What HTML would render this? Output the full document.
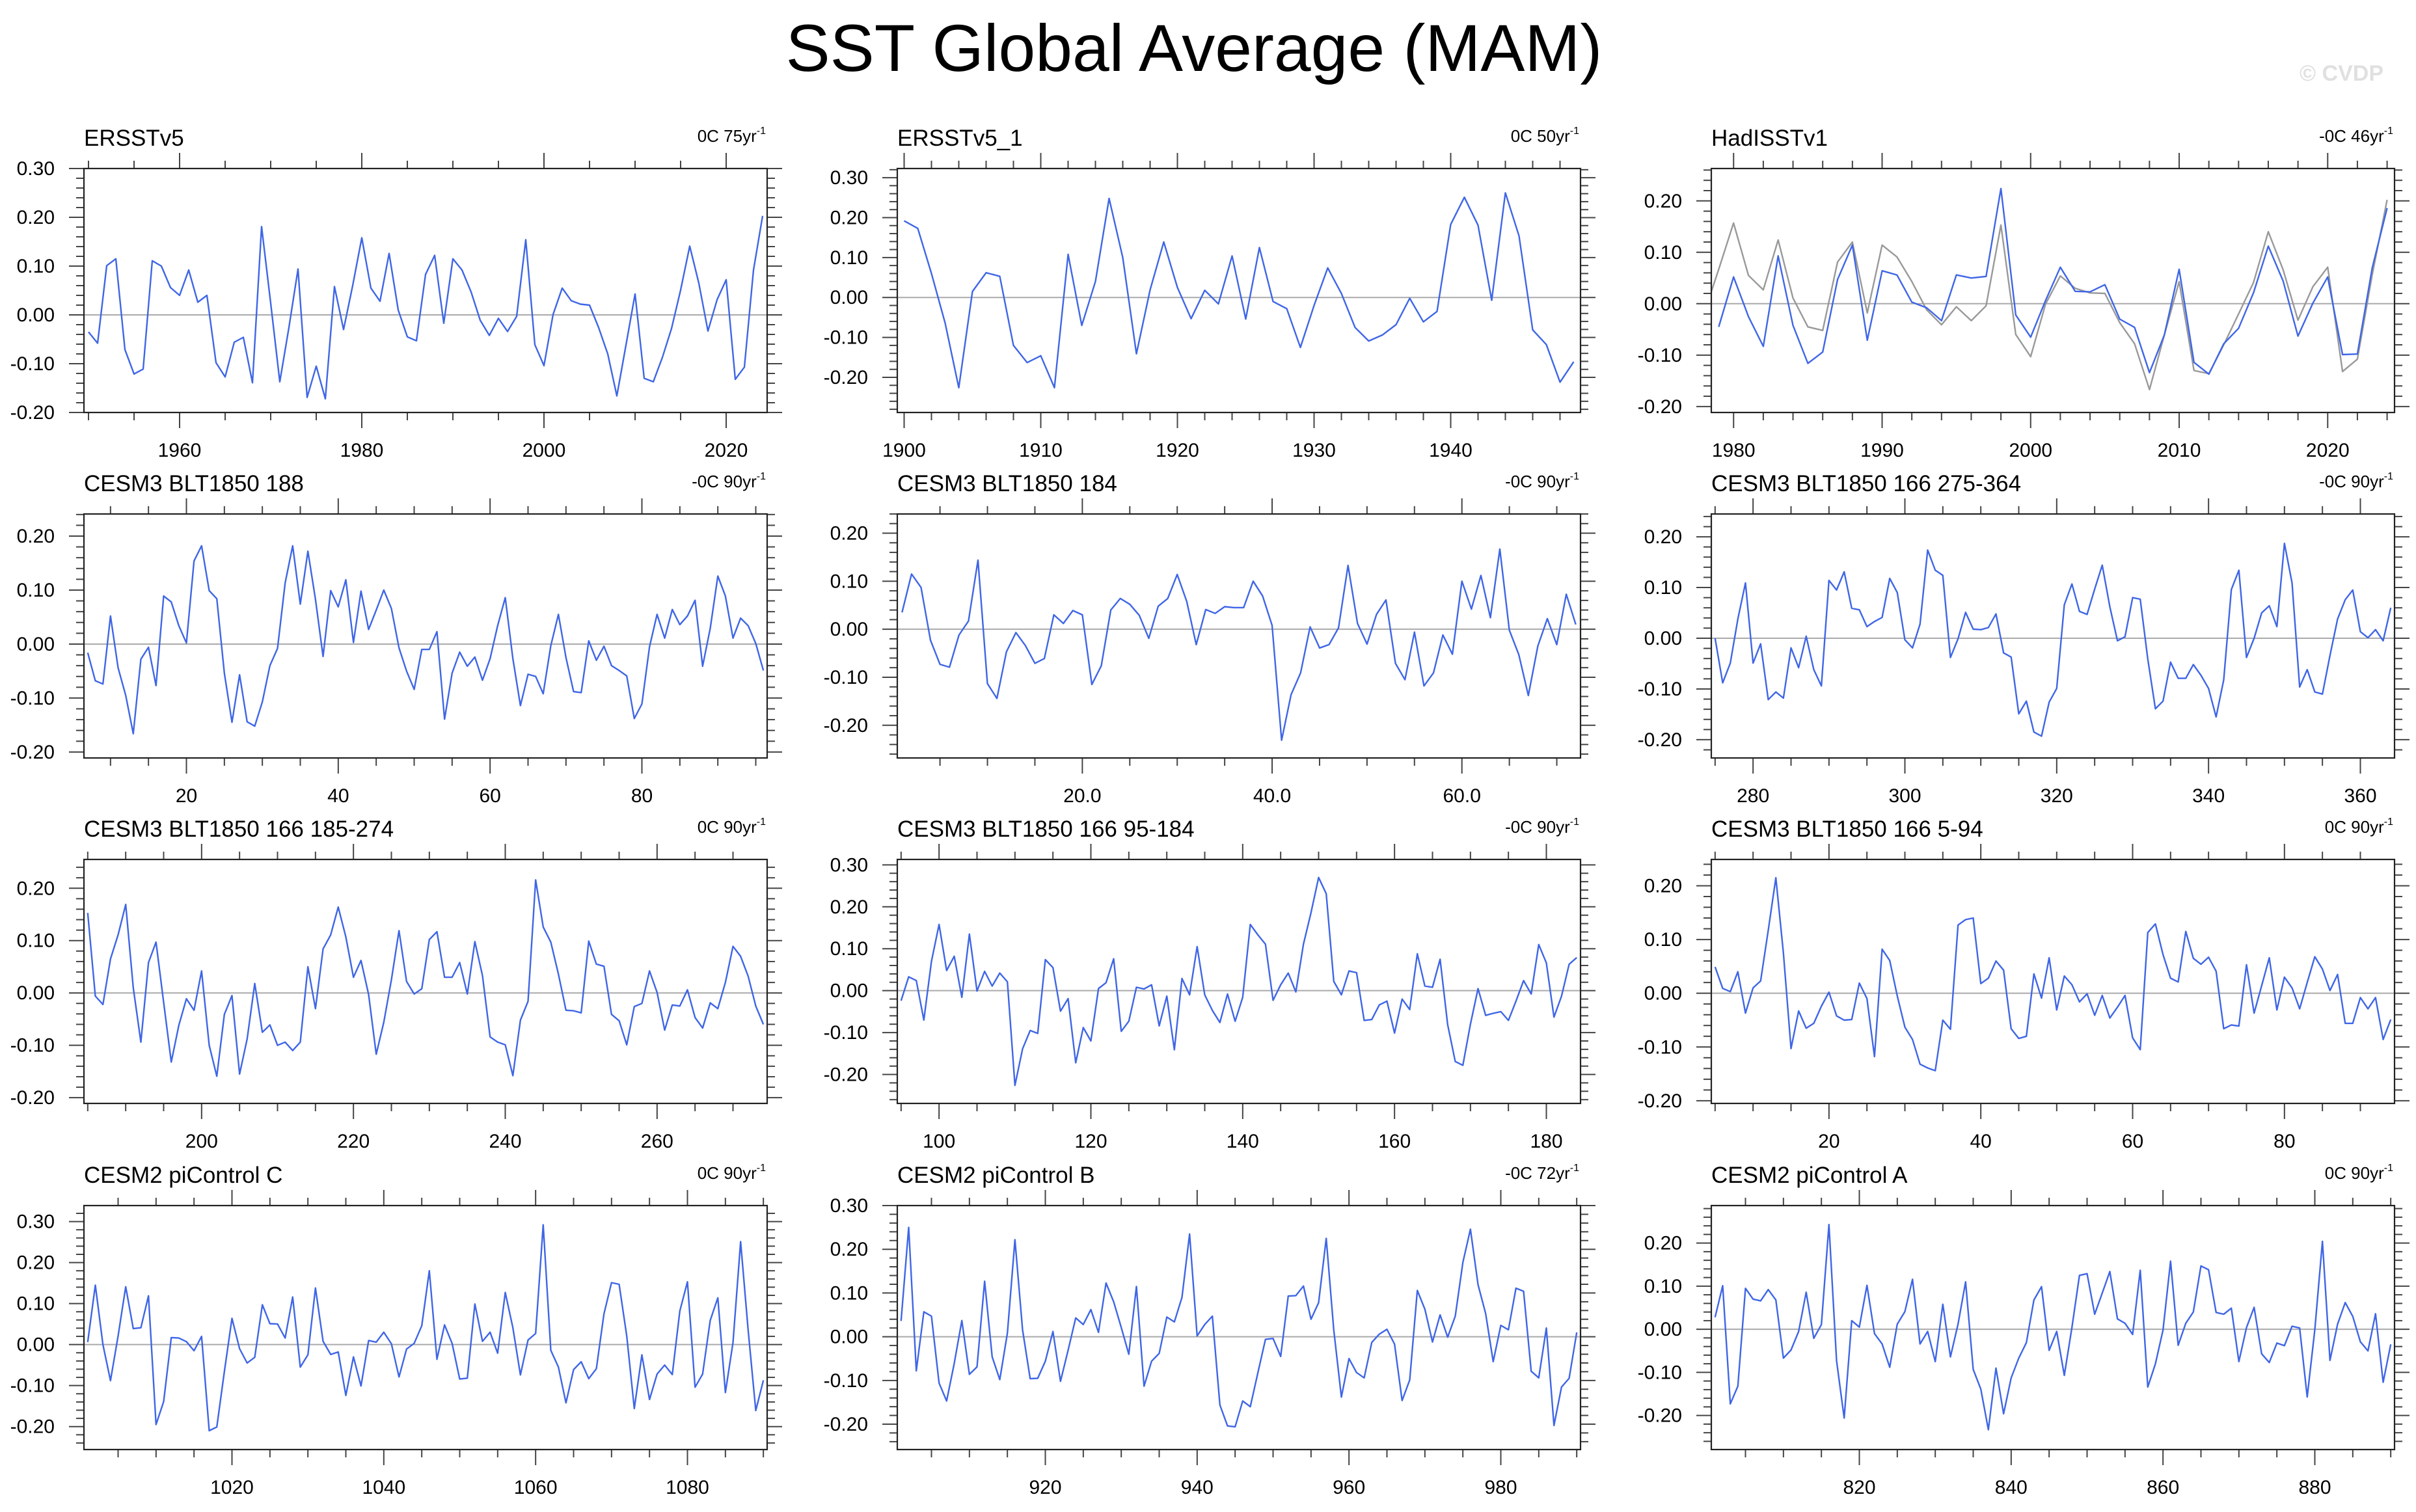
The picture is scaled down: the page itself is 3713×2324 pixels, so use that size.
<!DOCTYPE html>
<html><head><meta charset="utf-8"><title>SST Global Average (MAM)</title>
<style>
html,body{margin:0;padding:0;background:#fff;}
svg{display:block;font-family:"Liberation Sans",Arial,sans-serif;}
</style></head>
<body>
<svg id="chart" xmlns="http://www.w3.org/2000/svg" width="3713" height="2324" viewBox="0 0 3713 2324">
<rect width="3713" height="2324" fill="#fff"/>
<text x="1835" y="109" font-size="102" text-anchor="middle" fill="#000">SST Global Average (MAM)</text>
<text x="3663" y="124" font-size="34" font-weight="bold" text-anchor="end" fill="#e0e0e0">© CVDP</text>
</svg>
<script>
// ---------- data ----------
const p1Title = "ERSSTv5", p1Trend = "0C 75yr", p1Start = 1950;
const p1Values = [-0.035,-0.058,0.101,0.115,-0.071,-0.121,-0.111,0.111,0.100,0.056,0.040,0.092,0.026,0.040,-0.098,-0.127,-0.056,-0.046,-0.139,0.181,0.024,-0.137,-0.026,0.094,-0.169,-0.105,-0.172,0.058,-0.030,0.060,0.158,0.055,0.028,0.126,0.010,-0.045,-0.053,0.083,0.122,-0.017,0.115,0.092,0.047,-0.011,-0.042,-0.007,-0.034,-0.003,0.154,-0.061,-0.104,0.001,0.055,0.029,0.022,0.020,-0.026,-0.080,-0.166,-0.062,0.043,-0.130,-0.137,-0.087,-0.028,0.051,0.141,0.065,-0.033,0.031,0.072,-0.132,-0.107,0.092,0.203];

const p2Title = "ERSSTv5_1", p2Trend = "0C 50yr", p2Start = 1900;
const p2Values = [0.192,0.173,0.060,-0.064,-0.226,0.015,0.062,0.053,-0.120,-0.163,-0.146,-0.226,0.108,-0.070,0.040,0.248,0.100,-0.141,0.019,0.139,0.025,-0.053,0.018,-0.016,0.104,-0.054,0.125,-0.010,-0.028,-0.125,-0.020,0.074,0.010,-0.075,-0.109,-0.094,-0.068,-0.002,-0.061,-0.035,0.183,0.251,0.181,-0.007,0.262,0.154,-0.081,-0.118,-0.212,-0.161];

const p3Title = "HadISSTv1", p3Trend = "-0C 46yr", p3Start = 1979;
const p3Values = [-0.045,0.052,-0.025,-0.083,0.093,-0.042,-0.116,-0.094,0.047,0.114,-0.071,0.064,0.056,0.003,-0.008,-0.033,0.056,0.050,0.053,0.224,-0.022,-0.065,0.006,0.071,0.024,0.023,0.037,-0.030,-0.046,-0.134,-0.061,0.067,-0.114,-0.137,-0.078,-0.048,0.021,0.112,0.044,-0.063,0.001,0.052,-0.099,-0.098,0.070,0.186];
const p3GrayStart = 1978;
const p3GrayValues = [-0.020,0.067,0.157,0.055,0.027,0.124,0.011,-0.045,-0.052,0.081,0.120,-0.018,0.114,0.091,0.043,-0.012,-0.041,-0.006,-0.033,-0.004,0.153,-0.060,-0.103,-0.001,0.054,0.030,0.021,0.020,-0.037,-0.078,-0.167,-0.061,0.043,-0.130,-0.136,-0.080,-0.020,0.041,0.140,0.066,-0.032,0.033,0.071,-0.132,-0.108,0.057,0.202];

const p4Title = "CESM3 BLT1850 188", p4Trend = "-0C 90yr", p4Start = 7;
const p4Values = [-0.016,-0.068,-0.074,0.052,-0.044,-0.095,-0.166,-0.028,-0.006,-0.077,0.089,0.078,0.034,0.002,0.154,0.182,0.099,0.084,-0.054,-0.145,-0.057,-0.144,-0.152,-0.107,-0.040,-0.008,0.113,0.182,0.074,0.172,0.083,-0.023,0.099,0.069,0.119,0.003,0.098,0.027,0.063,0.100,0.066,-0.007,-0.050,-0.084,-0.010,-0.010,0.023,-0.139,-0.054,-0.015,-0.041,-0.024,-0.067,-0.027,0.034,0.086,-0.027,-0.114,-0.056,-0.060,-0.092,-0.003,0.055,-0.025,-0.088,-0.090,0.006,-0.030,-0.004,-0.040,-0.049,-0.059,-0.138,-0.111,-0.005,0.055,0.011,0.064,0.036,0.052,0.081,-0.041,0.029,0.126,0.089,0.011,0.048,0.034,0.001,-0.049];

const p5Title = "CESM3 BLT1850 184", p5Trend = "-0C 90yr", p5Start = 1;
const p5Values = [0.035,0.115,0.087,-0.023,-0.073,-0.079,-0.012,0.017,0.144,-0.113,-0.144,-0.047,-0.007,-0.034,-0.071,-0.061,0.030,0.012,0.039,0.030,-0.115,-0.076,0.040,0.064,0.052,0.029,-0.019,0.048,0.064,0.114,0.058,-0.032,0.041,0.033,0.047,0.045,0.045,0.100,0.069,0.008,-0.231,-0.136,-0.091,0.005,-0.039,-0.032,0.003,0.133,0.012,-0.031,0.031,0.061,-0.071,-0.105,-0.006,-0.118,-0.091,-0.012,-0.052,0.100,0.042,0.112,0.024,0.167,-0.002,-0.053,-0.138,-0.035,0.022,-0.032,0.073,0.010];

const p6Title = "CESM3 BLT1850 166 275-364", p6Trend = "-0C 90yr", p6Start = 275;
const p6Values = [0.000,-0.088,-0.049,0.038,0.109,-0.049,-0.011,-0.121,-0.106,-0.118,-0.019,-0.058,0.004,-0.062,-0.094,0.114,0.095,0.131,0.059,0.056,0.023,0.033,0.041,0.118,0.090,-0.003,-0.019,0.028,0.174,0.134,0.124,-0.038,-0.001,0.051,0.018,0.017,0.021,0.048,-0.029,-0.037,-0.149,-0.124,-0.185,-0.193,-0.126,-0.099,0.066,0.107,0.053,0.047,0.097,0.144,0.062,-0.005,0.003,0.080,0.077,-0.041,-0.139,-0.124,-0.047,-0.079,-0.079,-0.052,-0.073,-0.099,-0.155,-0.082,0.096,0.134,-0.038,0.000,0.050,0.064,0.023,0.187,0.109,-0.096,-0.062,-0.106,-0.110,-0.034,0.038,0.076,0.095,0.013,0.001,0.017,-0.005,0.060];

const p7Title = "CESM3 BLT1850 166 185-274", p7Trend = "0C 90yr", p7Start = 185;
const p7Values = [0.153,-0.006,-0.022,0.065,0.111,0.169,0.010,-0.094,0.058,0.097,-0.018,-0.132,-0.062,-0.011,-0.033,0.042,-0.100,-0.159,-0.041,-0.005,-0.155,-0.088,0.018,-0.075,-0.061,-0.100,-0.094,-0.110,-0.094,0.050,-0.030,0.084,0.111,0.164,0.107,0.030,0.062,-0.003,-0.117,-0.056,0.025,0.119,0.022,-0.002,0.008,0.102,0.117,0.030,0.030,0.058,-0.002,0.098,0.033,-0.084,-0.094,-0.099,-0.158,-0.052,-0.016,0.216,0.126,0.097,0.036,-0.033,-0.034,-0.038,0.099,0.055,0.051,-0.041,-0.053,-0.099,-0.026,-0.020,0.042,0.001,-0.071,-0.023,-0.025,0.006,-0.047,-0.067,-0.019,-0.030,0.020,0.089,0.070,0.032,-0.025,-0.060];

const p8Title = "CESM3 BLT1850 166 95-184", p8Trend = "-0C 90yr", p8Start = 95;
const p8Values = [-0.024,0.033,0.024,-0.070,0.070,0.158,0.048,0.082,-0.016,0.135,-0.001,0.046,0.011,0.042,0.021,-0.226,-0.139,-0.095,-0.102,0.074,0.055,-0.049,-0.019,-0.172,-0.088,-0.120,0.005,0.019,0.076,-0.097,-0.073,0.008,0.004,0.014,-0.084,-0.013,-0.141,0.029,-0.010,0.105,-0.010,-0.047,-0.076,-0.008,-0.073,-0.016,0.158,0.133,0.111,-0.023,0.014,0.042,-0.003,0.111,0.186,0.270,0.231,0.022,-0.010,0.047,0.043,-0.071,-0.069,-0.034,-0.025,-0.101,-0.020,-0.045,0.088,0.011,0.008,0.075,-0.081,-0.169,-0.178,-0.080,0.005,-0.059,-0.054,-0.050,-0.071,-0.025,0.024,-0.008,0.110,0.066,-0.063,-0.013,0.063,0.079];

const p9Title = "CESM3 BLT1850 166 5-94", p9Trend = "0C 90yr", p9Start = 5;
const p9Values = [0.049,0.009,0.003,0.040,-0.037,0.010,0.023,0.117,0.215,0.075,-0.103,-0.033,-0.065,-0.056,-0.024,0.002,-0.042,-0.050,-0.049,0.019,-0.010,-0.118,0.082,0.061,-0.005,-0.063,-0.086,-0.132,-0.139,-0.144,-0.050,-0.067,0.127,0.137,0.140,0.018,0.028,0.060,0.043,-0.066,-0.084,-0.080,0.036,-0.009,0.066,-0.031,0.032,0.016,-0.016,-0.001,-0.041,-0.004,-0.046,-0.026,-0.004,-0.083,-0.105,0.113,0.129,0.072,0.028,0.021,0.115,0.065,0.054,0.067,0.041,-0.066,-0.059,-0.061,0.053,-0.037,0.014,0.066,-0.031,0.030,0.010,-0.029,0.020,0.068,0.045,0.005,0.035,-0.056,-0.056,-0.008,-0.029,-0.008,-0.086,-0.049];

const p10Title = "CESM2 piControl C", p10Trend = "0C 90yr", p10Start = 1001;
const p10Values = [0.006,0.145,0.000,-0.088,0.021,0.141,0.039,0.041,0.119,-0.195,-0.139,0.017,0.016,0.007,-0.015,0.020,-0.210,-0.201,-0.066,0.064,-0.010,-0.045,-0.031,0.097,0.051,0.050,0.016,0.116,-0.055,-0.025,0.138,0.008,-0.024,-0.018,-0.124,-0.030,-0.101,0.010,0.006,0.030,0.002,-0.079,-0.011,0.003,0.046,0.180,-0.036,0.048,0.003,-0.084,-0.082,0.099,0.008,0.030,-0.021,0.127,0.041,-0.074,0.011,0.027,0.292,-0.014,-0.055,-0.142,-0.061,-0.042,-0.083,-0.059,0.075,0.151,0.147,0.021,-0.156,-0.025,-0.134,-0.072,-0.050,-0.073,0.082,0.153,-0.104,-0.072,0.059,0.114,-0.117,0.005,0.251,0.035,-0.161,-0.087];

const p11Title = "CESM2 piControl B", p11Trend = "-0C 72yr", p11Start = 901;
const p11Values = [0.036,0.250,-0.078,0.057,0.047,-0.106,-0.147,-0.061,0.037,-0.086,-0.069,0.127,-0.046,-0.098,0.008,0.222,0.016,-0.096,-0.095,-0.056,0.012,-0.102,-0.031,0.043,0.028,0.062,0.010,0.123,0.080,0.021,-0.040,0.115,-0.113,-0.056,-0.038,0.045,0.034,0.090,0.235,0.002,0.028,0.047,-0.156,-0.204,-0.206,-0.147,-0.160,-0.082,-0.006,-0.004,-0.045,0.093,0.094,0.116,0.040,0.078,0.225,0.015,-0.138,-0.050,-0.082,-0.094,-0.013,0.006,0.017,-0.017,-0.146,-0.099,0.106,0.063,-0.012,0.050,-0.001,0.047,0.170,0.246,0.119,0.053,-0.057,0.026,0.016,0.111,0.104,-0.079,-0.094,0.020,-0.203,-0.115,-0.095,0.010];

const p12Title = "CESM2 piControl A", p12Trend = "0C 90yr", p12Start = 801;
const p12Values = [0.028,0.101,-0.173,-0.132,0.095,0.070,0.066,0.092,0.068,-0.067,-0.048,-0.005,0.086,-0.021,0.011,0.243,-0.073,-0.206,0.020,0.005,0.102,-0.010,-0.034,-0.088,0.012,0.041,0.116,-0.034,-0.005,-0.075,0.058,-0.064,0.012,0.110,-0.093,-0.139,-0.233,-0.090,-0.196,-0.113,-0.067,-0.031,0.068,0.099,-0.049,-0.005,-0.107,0.004,0.125,0.129,0.035,0.084,0.134,0.024,0.014,-0.012,0.137,-0.134,-0.080,-0.002,0.158,-0.037,0.014,0.040,0.147,0.138,0.039,0.035,0.049,-0.075,0.004,0.051,-0.057,-0.077,-0.032,-0.038,0.007,0.003,-0.157,-0.001,0.204,-0.072,0.012,0.062,0.030,-0.029,-0.050,0.036,-0.123,-0.035];

// ---------- layout ----------
const NS = "http://www.w3.org/2000/svg";
const svg = document.getElementById('chart');
const colX = [129, 1379, 2630];
const rowY = [259, 790, 1321, 1853];
const PW = 1050, PH = 375;
const BLUE = "#3f66e6";

function el(tag, attrs, parent) {
  const e = document.createElementNS(NS, tag);
  for (const k in attrs) e.setAttribute(k, attrs[k]);
  (parent || svg).appendChild(e);
  return e;
}

const panels = [
  {t:p1Title, r:p1Trend, s:p1Start, v:p1Values, c:0, w:0, xr:[1949.5,2024.5], yr:[-0.20,0.30], maj:20, min:5, dec:0},
  {t:p2Title, r:p2Trend, s:p2Start, v:p2Values, c:1, w:0, xr:[1899.5,1949.5], yr:[-0.288,0.323], maj:10, min:2, dec:0},
  {t:p3Title, r:p3Trend, s:p3Start, v:p3Values, c:2, w:0, xr:[1978.5,2024.5], yr:[-0.2116,0.263], maj:10, min:2, dec:0, gs:p3GrayStart, gv:p3GrayValues},
  {t:p4Title, r:p4Trend, s:p4Start, v:p4Values, c:0, w:1, xr:[6.5,96.5], yr:[-0.211,0.241], maj:20, min:5, dec:0},
  {t:p5Title, r:p5Trend, s:p5Start, v:p5Values, c:1, w:1, xr:[0.5,72.5], yr:[-0.268,0.240], maj:20, min:5, dec:1},
  {t:p6Title, r:p6Trend, s:p6Start, v:p6Values, c:2, w:1, xr:[274.5,364.5], yr:[-0.236,0.245], maj:20, min:5, dec:0},
  {t:p7Title, r:p7Trend, s:p7Start, v:p7Values, c:0, w:2, xr:[184.5,274.5], yr:[-0.211,0.255], maj:20, min:5, dec:0},
  {t:p8Title, r:p8Trend, s:p8Start, v:p8Values, c:1, w:2, xr:[94.5,184.5], yr:[-0.269,0.313], maj:20, min:5, dec:0},
  {t:p9Title, r:p9Trend, s:p9Start, v:p9Values, c:2, w:2, xr:[4.5,94.5], yr:[-0.205,0.249], maj:20, min:5, dec:0},
  {t:p10Title, r:p10Trend, s:p10Start, v:p10Values, c:0, w:3, xr:[1000.5,1090.5], yr:[-0.256,0.339], maj:20, min:5, dec:0},
  {t:p11Title, r:p11Trend, s:p11Start, v:p11Values, c:1, w:3, xr:[900.5,990.5], yr:[-0.258,0.300], maj:20, min:5, dec:0},
  {t:p12Title, r:p12Trend, s:p12Start, v:p12Values, c:2, w:3, xr:[800.5,890.5], yr:[-0.279,0.287], maj:20, min:5, dec:0}
];

panels.forEach(function(p, idx) {
  const L = colX[p.c], T = rowY[p.w], R = L + PW, B = T + PH;
  const sx = function(x){ return L + (x - p.xr[0]) / (p.xr[1] - p.xr[0]) * PW; };
  const sy = function(y){ return B - (y - p.yr[0]) / (p.yr[1] - p.yr[0]) * PH; };
  const g = el('g', {});
  
  

  const title = el('text', {x:L, y:T-35, 'font-size':35, fill:'#000'}, g);
  title.textContent = p.t;
  
  

  const trend = el('text', {x:R-2, y:T-41, 'font-size':26, 'text-anchor':'end', fill:'#000'}, g);
  
  
  const t1 = el('tspan', {}, trend); t1.textContent = p.r;
  const t2 = el('tspan', {dy:-12, 'font-size':16}, trend); t2.textContent = '-1';

  const cid = 'clip' + idx;
  const cp = el('clipPath', {id:cid}, g);
  el('rect', {x:L, y:T, width:PW, height:PH}, cp);

  // y ticks
  const yTicks = el('g', {stroke:'#444', 'stroke-width':2}, g);
  
  
  const kmin = Math.ceil(p.yr[0] / 0.02 - 1e-6), kmax = Math.floor(p.yr[1] / 0.02 + 1e-6);
  for (let k = kmin; k <= kmax; k++) {
    const y = sy(k * 0.02);
    const major = (k % 5 === 0);
    const len = major ? 23 : 12;
    el('line', {x1:L-len, y1:y, x2:L, y2:y}, yTicks);
    el('line', {x1:R, y1:y, x2:R+len, y2:y}, yTicks);
    if (major) {
      const lab = el('text', {x:L-45, y:y+10, 'font-size':30, 'text-anchor':'end', fill:'#000', stroke:'none'}, g);
      lab.textContent = (k * 0.02).toFixed(2).replace('-0.00', '0.00');
      
      
    }
  }
  // x ticks
  const xTicks = el('g', {stroke:'#444', 'stroke-width':2}, g);
  
  
  for (let v = Math.ceil(p.xr[0] / p.min) * p.min; v <= p.xr[1]; v += p.min) {
    const x = sx(v);
    const major = (Math.abs(v % p.maj) < 1e-6);
    const len = major ? 24 : 12;
    el('line', {x1:x, y1:T-len, x2:x, y2:T}, xTicks);
    el('line', {x1:x, y1:B, x2:x, y2:B+len}, xTicks);
    if (major) {
      const lab = el('text', {x:x, y:B+68, 'font-size':30, 'text-anchor':'middle', fill:'#000', stroke:'none'}, g);
      lab.textContent = v.toFixed(p.dec);
      
      
    }
  }
  // zero line
  const zl = el('line', {x1:L, y1:sy(0), x2:R, y2:sy(0), stroke:'#aaa', 'stroke-width':2}, g);
  
  

  if (p.gv) {
    const pts = p.gv.map(function(v, i){ return sx(p.gs + i).toFixed(1) + ',' + sy(v).toFixed(1); }).join(' ');
    const gl = el('polyline', {points:pts, fill:'none', stroke:'#999', 'stroke-width':2.4, 'stroke-linejoin':'round', 'clip-path':'url(#' + cid + ')'}, g);
    
    
  }
  const pts = p.v.map(function(v, i){ return sx(p.s + i).toFixed(1) + ',' + sy(v).toFixed(1); }).join(' ');
  const line = el('polyline', {points:pts, fill:'none', stroke:BLUE, 'stroke-width':2.4, 'stroke-linejoin':'round', 'clip-path':'url(#' + cid + ')'}, g);
  
  

  const box = el('rect', {x:L, y:T, width:PW, height:PH, fill:'none', stroke:'#222', 'stroke-width':2.2}, g);
  
  
});
</script>
</body></html>
